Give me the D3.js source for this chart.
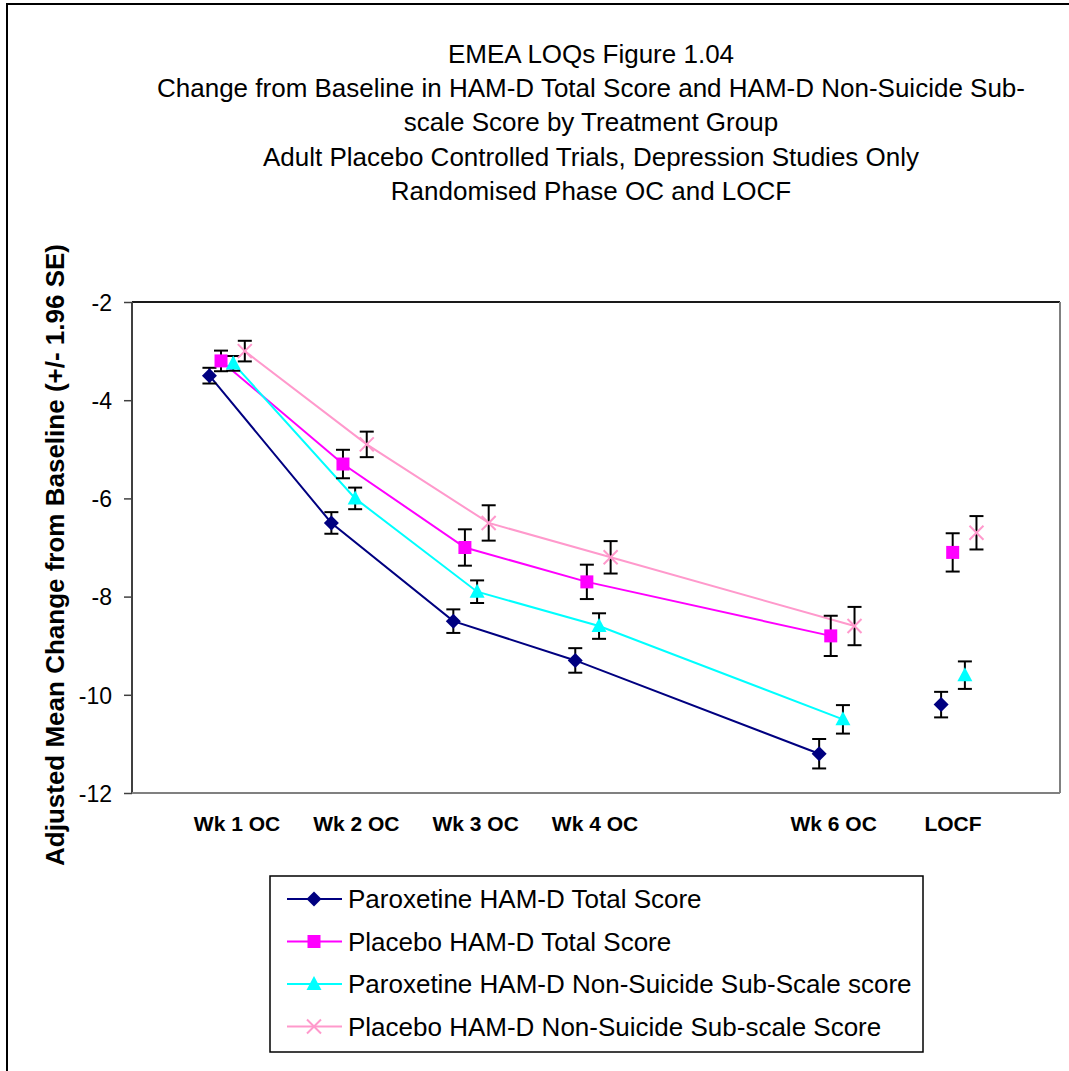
<!DOCTYPE html>
<html>
<head>
<meta charset="utf-8">
<script src="https://cdn.jsdelivr.net/npm/d3@7"></script>
<style>
  body { margin: 0; background: white; }
  text { font-family: "Liberation Sans", Arial, sans-serif; }
</style>
</head>
<body>
<script>
// chart values
var titleLines = [
  "EMEA LOQs Figure 1.04",
  "Change from Baseline in HAM-D Total Score and HAM-D Non-Suicide Sub-",
  "scale Score by Treatment Group",
  "Adult Placebo Controlled Trials, Depression Studies Only",
  "Randomised Phase OC and LOCF"
];
var categories = ["Wk 1 OC", "Wk 2 OC", "Wk 3 OC", "Wk 4 OC", "", "Wk 6 OC", "LOCF"];
var weeks = [1, 2, 3, 4, 6, 7];           // last one is LOCF, not joined to the line
var yTicks = [-2, -4, -6, -8, -10, -12];

var seriesNames = [
  "Paroxetine HAM-D Total Score",
  "Placebo HAM-D Total Score",
  "Paroxetine HAM-D Non-Suicide Sub-Scale score",
  "Placebo HAM-D Non-Suicide Sub-scale Score"
];
var parTotal = [-3.5, -6.5, -8.5, -9.3, -11.2, -10.2];
var parTotalErr = [0.16, 0.22, 0.24, 0.25, 0.30, 0.26];
var plaTotal = [-3.2, -5.3, -7.0, -7.7, -8.8, -7.1];
var plaTotalErr = [0.21, 0.29, 0.37, 0.35, 0.41, 0.39];
var parSub = [-3.25, -6.0, -7.9, -8.6, -10.5, -9.6];
var parSubErr = [0.15, 0.22, 0.23, 0.26, 0.29, 0.28];
var plaSub = [-3.0, -4.9, -6.5, -7.2, -8.6, -6.7];
var plaSubErr = [0.21, 0.26, 0.36, 0.33, 0.39, 0.34];

var colors = ["#000080", "#ff00ff", "#00ffff", "#ff99cc"];
var shapes = ["diamond", "square", "triangle", "cross"];
var offsets = [-0.145, -0.05, 0.05, 0.145];   // series are nudged sideways

var values = [parTotal, plaTotal, parSub, plaSub];
var errs = [parTotalErr, plaTotalErr, parSubErr, plaSubErr];

var W = 1069, H = 1071;
var svg = d3.select("body").append("svg")
            .attr("width", W)
            .attr("height", H);

// chart frame (runs off the page on the right and bottom)
svg.append("rect")
   .attr("x", 7).attr("y", 4)
   .attr("width", 1200).attr("height", 1200)
   .attr("fill", "white")
   .attr("stroke", "black")
   .attr("stroke-width", 2);

// title
svg.append("g")
   .selectAll("text")
   .data(titleLines)
   .enter()
   .append("text")
   .attr("x", 591)
   .attr("y", function(d, i) { return 63 + i * 34.2; })
   .attr("text-anchor", "middle")
   .style("font-size", "26px")
   .text(function(d) { return d; });

var plot = {left: 132, right: 1060, top: 302, bottom: 793};

var xScale = d3.scaleLinear()
               .domain([0.22, 7.83])
               .range([plot.left, plot.right]);

var yScale = d3.scaleLinear()
               .domain([-12, -2])
               .range([plot.bottom, plot.top]);

var catScale = d3.scalePoint()
                 .domain(categories)
                 .range([237, 953]);

// plot area border
svg.append("line")
   .attr("x1", plot.left).attr("x2", plot.right)
   .attr("y1", plot.top).attr("y2", plot.top)
   .style("stroke", "#1a1a1a").style("stroke-width", 2);
svg.append("line")
   .attr("x1", plot.right).attr("x2", plot.right)
   .attr("y1", plot.top).attr("y2", plot.bottom)
   .style("stroke", "#808080").style("stroke-width", 2);

// y axis
var yAxis = d3.axisLeft(yScale)
              .tickValues(yTicks)
              .tickSize(8)
              .tickPadding(12)
              .tickFormat(d3.format("d"));

var gy = svg.append("g")
   .attr("transform", "translate(" + plot.left + ",0)")
   .call(yAxis);
gy.select(".domain").remove();
gy.append("line")
  .attr("x1", 0).attr("x2", 0)
  .attr("y1", plot.top).attr("y2", plot.bottom)
  .style("stroke", "#404040").style("stroke-width", 2);
gy.selectAll(".tick line").style("stroke", "#404040").style("stroke-width", 1.5);
gy.selectAll(".tick text")
  .style("font-size", "23px")
  .style("font-family", "Liberation Sans, Arial, sans-serif")
  .attr("fill", "black")
  .attr("dy", "0.36em")
  .text(function(d) { return d < 0 ? "-" + Math.abs(d) : d; });

// x axis line (gray) with category labels
svg.append("line")
   .attr("x1", plot.left).attr("x2", plot.right)
   .attr("y1", plot.bottom).attr("y2", plot.bottom)
   .style("stroke", "#808080").style("stroke-width", 2);

svg.append("g")
   .selectAll("text")
   .data(categories.filter(function(d) { return d !== ""; }))
   .enter()
   .append("text")
   .attr("x", function(d) { return catScale(d); })
   .attr("y", 831)
   .attr("text-anchor", "middle")
   .style("font-size", "21px")
   .style("font-weight", "bold")
   .text(function(d) { return d; });

// y axis title
svg.append("text")
   .attr("transform", "translate(64," + 555 + ") rotate(-90)")
   .attr("text-anchor", "middle")
   .style("font-size", "26px")
   .style("font-weight", "bold")
   .text("Adjusted Mean Change from Baseline (+/- 1.96 SE)");

function markerPath(shape) {
  if (shape == "diamond") return "M0,-7.5L7.5,0L0,7.5L-7.5,0Z";
  if (shape == "square") return "M-6.5,-6.5H6.5V6.5H-6.5Z";
  if (shape == "triangle") return "M0,-8L7.5,6L-7.5,6Z";
  return "M-7,-7L7,7M-7,7L7,-7";
}

function drawMarker(g, shape, color) {
  var p = g.append("path").attr("d", markerPath(shape));
  if (shape == "cross") {
    p.attr("fill", "none").attr("stroke", color).attr("stroke-width", 2);
  } else {
    p.attr("fill", color);
  }
}

var line = d3.line()
             .defined(function(d) { return !d.locf; })
             .x(function(d) { return xScale(d.x); })
             .y(function(d) { return yScale(d.y); });

// lines first, then error bars, then markers
var seriesData = [];
for (let s = 0; s < values.length; s++) {
  var pts = [];
  for (let i = 0; i < weeks.length; i++) {
    pts.push({x: weeks[i] + offsets[s], y: values[s][i], e: errs[s][i], locf: i == weeks.length - 1});
  }
  seriesData.push(pts);
}

for (let s = 0; s < seriesData.length; s++) {
  svg.append("path")
     .datum(seriesData[s])
     .attr("d", line)
     .attr("fill", "none")
     .style("stroke", colors[s])
     .style("stroke-width", 2);
}

for (let s = 0; s < seriesData.length; s++) {
  var eg = svg.append("g").attr("class", "errbars");
  seriesData[s].forEach(function(d) {
    var x = xScale(d.x);
    var y1 = yScale(d.y + d.e), y2 = yScale(d.y - d.e);
    eg.append("line").attr("x1", x).attr("x2", x).attr("y1", y1).attr("y2", y2)
      .style("stroke", "black").style("stroke-width", 2);
    eg.append("line").attr("x1", x - 7).attr("x2", x + 7).attr("y1", y1).attr("y2", y1)
      .style("stroke", "black").style("stroke-width", 2);
    eg.append("line").attr("x1", x - 7).attr("x2", x + 7).attr("y1", y2).attr("y2", y2)
      .style("stroke", "black").style("stroke-width", 2);
  });
}

for (let s = 0; s < seriesData.length; s++) {
  seriesData[s].forEach(function(d) {
    var g = svg.append("g")
               .attr("transform", "translate(" + xScale(d.x) + "," + yScale(d.y) + ")");
    drawMarker(g, shapes[s], colors[s]);
  });
}

// legend
var legend = svg.append("g").attr("class", "legend");
legend.append("rect")
      .attr("x", 270).attr("y", 876)
      .attr("width", 653).attr("height", 176)
      .attr("fill", "white")
      .attr("stroke", "black")
      .attr("stroke-width", 1.5);

var legendY = d3.scalePoint().domain(seriesNames).range([899, 1026.5]);

seriesNames.forEach(function(name, s) {
  var y = legendY(name);
  legend.append("line")
        .attr("x1", 287).attr("x2", 342)
        .attr("y1", y).attr("y2", y)
        .style("stroke", colors[s]).style("stroke-width", 2);
  var g = legend.append("g").attr("transform", "translate(314," + y + ")");
  drawMarker(g, shapes[s], colors[s]);
  legend.append("text")
        .attr("x", 348).attr("y", y)
        .attr("dy", "0.36em")
        .style("font-size", "26px")
        .text(name);
});
</script>
</body>
</html>
